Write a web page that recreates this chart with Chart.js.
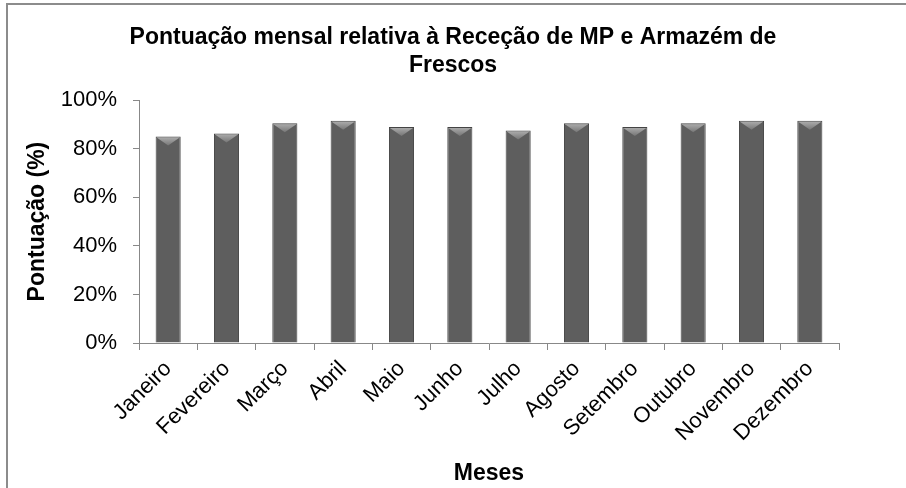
<!DOCTYPE html>
<html>
<head>
<meta charset="utf-8">
<script src="https://cdn.jsdelivr.net/npm/chart.js@4/dist/chart.umd.min.js"></script>
<style>
  html, body { margin: 0; padding: 0; background: #fff; }
  #wrap { width: 906px; height: 488px; }
</style>
</head>
<body>
<div id="wrap"><canvas id="chart" width="906" height="488"></canvas></div>
<script>
// ---- dados ----
const meses = ["Janeiro", "Fevereiro", "Março", "Abril", "Maio", "Junho",
               "Julho", "Agosto", "Setembro", "Outubro", "Novembro", "Dezembro"];
const pontuacao = [85, 86.3, 90.5, 91.5, 89, 89, 87.5, 90.5, 89, 90.5, 91.5, 91.5];
const yTicks = [0, 20, 40, 60, 80, 100];

const FONT = "'Liberation Sans', Arial, sans-serif";

// moldura + fundo branco
const frame = {
  id: 'frame',
  beforeDraw(chart) {
    const c = chart.ctx;
    c.save();
    c.fillStyle = '#fff';
    c.fillRect(0, 0, chart.width, chart.height);
    c.strokeStyle = '#8c8c8c';
    c.lineWidth = 2;
    c.strokeRect(7, 4, chart.width + 10, chart.height + 10);
    c.restore();
  }
};

// topo "chanfrado" das barras
const bevel = {
  id: 'bevel',
  afterDatasetsDraw(chart) {
    const c = chart.ctx;
    chart.getDatasetMeta(0).data.forEach(bar => {
      const half = bar.width / 2;
      const l = bar.x - half, r = bar.x + half, t = bar.y;
      const h = 9;
      c.save();
      c.beginPath();
      c.moveTo(l + 1, t + 1);
      c.lineTo(r - 1, t + 1);
      c.lineTo(bar.x, t + h);
      c.closePath();
      const g = c.createLinearGradient(0, t, 0, t + h);
      g.addColorStop(0, '#b0b0b0');
      g.addColorStop(1, '#767676');
      c.fillStyle = g;
      c.fill();
      c.restore();
    });
  }
};

function barFill(ctx) {
  const el = ctx.element;
  if (!el || !el.width) return '#5e5e5e';
  const x0 = el.x - el.width / 2, x1 = el.x + el.width / 2;
  const g = ctx.chart.ctx.createLinearGradient(x0, 0, x1, 0);
  g.addColorStop(0, '#3a3a3a');
  g.addColorStop(0.2, '#5a5a5a');
  g.addColorStop(0.5, '#646464');
  g.addColorStop(0.8, '#5a5a5a');
  g.addColorStop(1, '#3a3a3a');
  return g;
}

new Chart(document.getElementById('chart'), {
  type: 'bar',
  data: {
    labels: meses,
    datasets: [{
      data: pontuacao,
      backgroundColor: barFill,
      borderColor: '#444',
      borderWidth: 1,
      categoryPercentage: 0.86,
      barPercentage: 0.5
    }]
  },
  options: {
    responsive: false,
    animation: false,
    devicePixelRatio: 1,
    layout: { padding: 0 },
    plugins: {
      legend: { display: false },
      tooltip: { enabled: false },
      title: {
        display: true,
        text: ['Pontuação mensal relativa à Receção de MP e Armazém de', 'Frescos'],
        color: '#000',
        font: { family: FONT, size: 23, weight: 'bold', lineHeight: 1.2 },
        padding: { top: 24, bottom: 21 }
      }
    },
    scales: {
      y: {
        min: 0, max: 100,
        afterBuildTicks(scale) { scale.ticks = yTicks.map(v => ({ value: v })); },
        afterFit(scale) { scale.width = 139; },
        border: { display: true, color: '#888', width: 1 },
        grid: { drawOnChartArea: false, color: '#888', tickLength: 6 },
        ticks: {
          color: '#000',
          padding: 16,
          font: { family: FONT, size: 22 },
          callback: v => v + '%'
        },
        title: {
          display: true,
          text: 'Pontuação (%)',
          color: '#000',
          font: { family: FONT, size: 23, weight: 'bold' },
          padding: { top: 24, bottom: 4 }
        }
      },
      // margem direita vazia
      margem: {
        type: 'linear',
        position: 'right',
        min: 0, max: 100,
        afterFit(scale) { scale.width = 67; },
        border: { display: false },
        grid: { display: false },
        ticks: { display: false }
      },
      x: {
        afterFit(scale) { scale.height = 145; },
        border: { display: true, color: '#888', width: 1 },
        grid: { drawOnChartArea: false, offset: true, color: '#888', tickLength: 7 },
        ticks: {
          color: '#000',
          padding: 6,
          maxRotation: 45,
          minRotation: 45,
          autoSkip: false,
          font: { family: FONT, size: 22 }
        },
        title: {
          display: true,
          text: 'Meses',
          color: '#000',
          font: { family: FONT, size: 23, weight: 'bold' },
          padding: { top: 0, bottom: 1 }
        }
      }
    }
  },
  plugins: [frame, bevel]
});
</script>
</body>
</html>
